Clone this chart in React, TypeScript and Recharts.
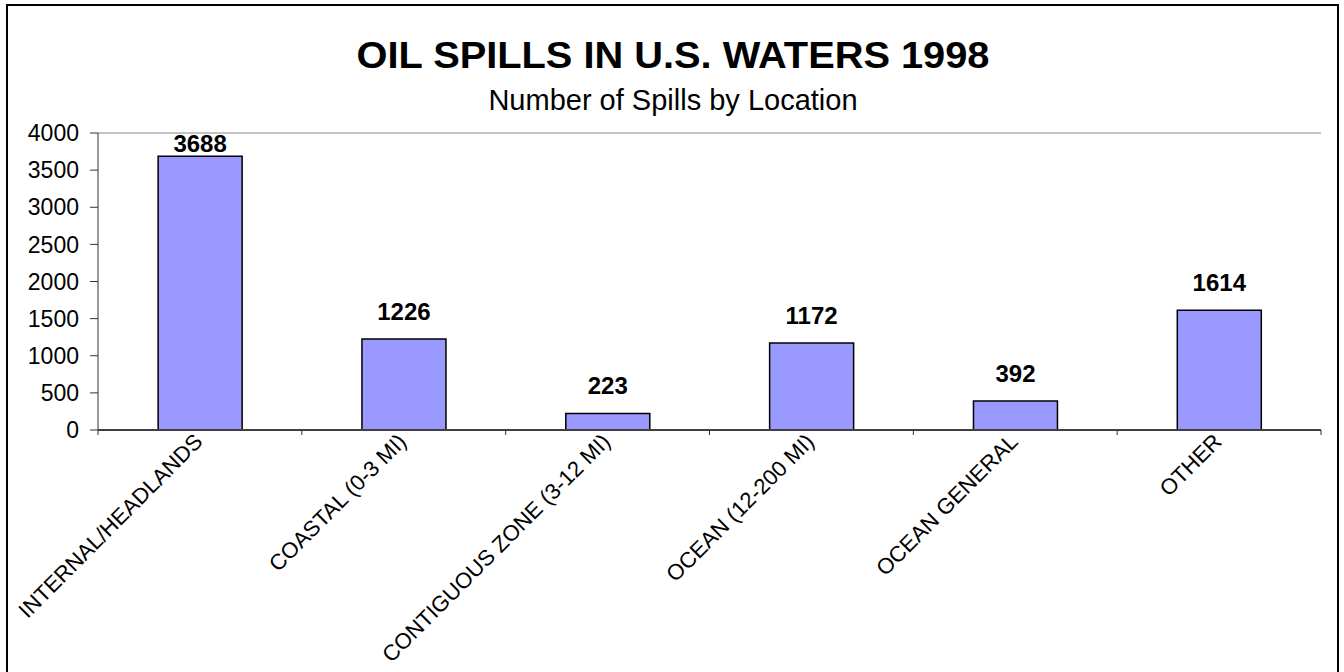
import { BarChart, Bar, XAxis, YAxis, ReferenceLine } from 'recharts'

const locations = [
  'INTERNAL/HEADLANDS',
  'COASTAL (0-3 MI)',
  'CONTIGUOUS ZONE (3-12 MI)',
  'OCEAN (12-200 MI)',
  'OCEAN GENERAL',
  'OTHER',
]
const spills = [3688, 1226, 223, 1172, 392, 1614]
const yTicks = [0, 500, 1000, 1500, 2000, 2500, 3000, 3500, 4000]

const FONT = '"Liberation Sans", Arial, sans-serif'

const data = locations.map((name, i) => ({ name, spills: spills[i] }))

function CategoryTick({ x, y, payload, width, visibleTicksCount, index }: any) {
  // half a category, for the tick marks that sit between the bars
  const half = payload?.offset || (width && visibleTicksCount ? width / visibleTicksCount / 2 : 0)
  const ax = x + 4
  const ay = y + 13
  return (
    <g>
      {half > 0 && index === 0 && (
        <line x1={x - half} x2={x - half} y1={y} y2={y + 5} stroke="#333" />
      )}
      {half > 0 && <line x1={x + half} x2={x + half} y1={y} y2={y + 5} stroke="#333" />}
      <text
        x={ax}
        y={ay}
        transform={`rotate(-45 ${ax} ${ay})`}
        textAnchor="end"
        fontSize={22}
        fontFamily={FONT}
        fill="#000"
      >
        {payload.value}
      </text>
    </g>
  )
}

function ValueLabel({ x, y, width, value }: any) {
  // excel keeps the label inside the plot, so the tallest one gets pushed down
  const baseline = Math.max(y - 19, 152)
  return (
    <text
      x={x + width / 2}
      y={baseline}
      textAnchor="middle"
      fontSize={24}
      fontWeight="bold"
      fontFamily={FONT}
      fill="#000"
    >
      {value}
    </text>
  )
}

export default function App() {
  return (
    <div style={{ position: 'absolute', left: 0, top: 0, width: 1344, height: 672, overflow: 'hidden', background: '#fff' }}>
      <div
        style={{
          position: 'absolute',
          left: 6,
          top: 4,
          width: 1329,
          height: 700,
          border: '2px solid #000',
        }}
      />
      <svg width={1344} height={130} style={{ position: 'absolute', left: 0, top: 0 }}>
        <text
          x={673}
          y={68}
          textAnchor="middle"
          fontSize={36}
          fontWeight="bold"
          fontFamily={FONT}
          textLength={633}
          lengthAdjust="spacingAndGlyphs"
        >
          OIL SPILLS IN U.S. WATERS 1998
        </text>
        <text x={673} y={110} textAnchor="middle" fontSize={29} fontFamily={FONT}>
          Number of Spills by Location
        </text>
      </svg>
      <div style={{ position: 'absolute', left: 0, top: 0 }}>
        <BarChart
          width={1344}
          height={672}
          data={data}
          margin={{ top: 133, right: 23, bottom: 42, left: 38 }}
          barCategoryGap="29.5%"
        >
          <XAxis
            dataKey="name"
            height={200}
            interval={0}
            tick={<CategoryTick />}
            tickLine={false}
            tickSize={0}
            tickMargin={0}
            axisLine={{ stroke: '#404040', strokeWidth: 2 }}
          />
          <YAxis
            domain={[0, 4000]}
            ticks={yTicks}
            width={60}
            tickSize={8}
            tickMargin={11}
            tick={{ fontSize: 23, fill: '#000', fontFamily: FONT }}
            axisLine={{ stroke: '#333' }}
            tickLine={{ stroke: '#333' }}
          />
          <YAxis
            yAxisId="right"
            orientation="right"
            domain={[0, 4000]}
            width={0}
            tick={false}
            tickLine={false}
            axisLine={{ stroke: '#888' }}
          />
          <ReferenceLine y={4000} stroke="#888" />
          <Bar
            dataKey="spills"
            fill="#9999FF"
            stroke="#000"
            strokeWidth={1.5}
            isAnimationActive={false}
            label={<ValueLabel />}
          />
        </BarChart>
      </div>
    </div>
  )
}
